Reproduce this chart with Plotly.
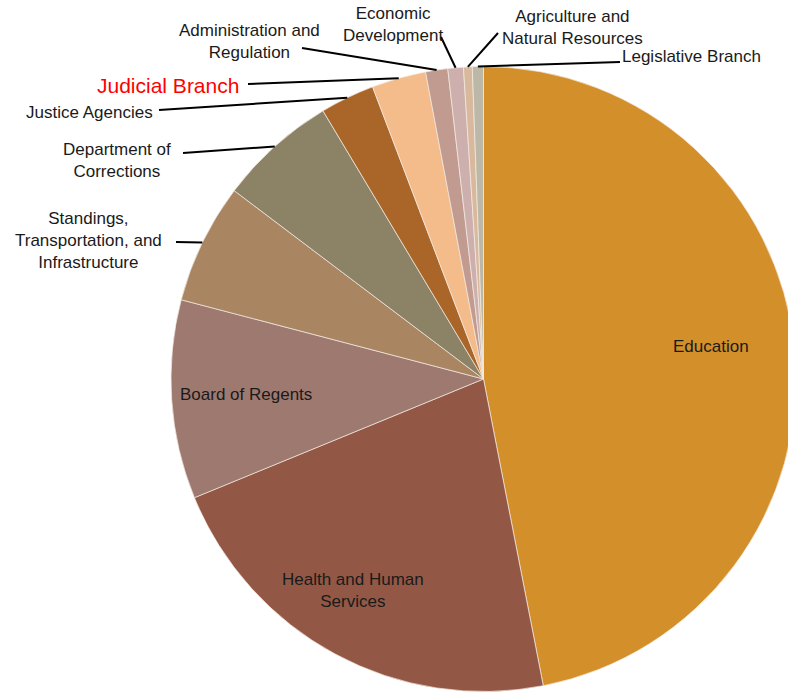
import math
import plotly.graph_objects as go

# ---- data ----
categories = [
    "Education", "Health and Human Services", "Board of Regents",
    "Standings, Transportation, and Infrastructure", "Department of Corrections",
    "Justice Agencies", "Judicial Branch", "Administration and Regulation",
    "Economic Development", "Agriculture and Natural Resources", "Legislative Branch",
]
shares = [46.8, 21.8, 10.25, 6.2, 6.1, 2.8, 2.8, 1.14, 0.8, 0.45, 0.57]
display_labels = [
    "Education", "Health and Human<br>Services", "Board of Regents",
    "Standings,<br>Transportation, and<br>Infrastructure", "Department of<br>Corrections",
    "Justice Agencies", "Judicial Branch", "Administration and<br>Regulation",
    "Economic<br>Development", "Agriculture and<br>Natural Resources", "Legislative Branch",
]
colors = [
    "#D38F2A", "#935845", "#9E7970", "#AA8562", "#8C8367", "#AA6628",
    "#F4BC8A", "#C19A90", "#CDB0AE", "#D9B99E", "#BCB8A8",
]

W, H = 796, 693
OFF = 0  # body margin removed via post_script


def px(x, y):
    """screen pixel -> paper coords"""
    return (x - OFF) / W, 1 - (y - OFF) / H


# pie domain in screen pixels (left, top, right, bottom)
dl, dt, dr, db = 171, 66, 796, 692
x0d, y1d = px(dl, dt)
x1d, y0d = px(dr, db)

fig = go.Figure(go.Pie(
    labels=categories, values=shares, sort=False, direction="clockwise",
    rotation=0, marker=dict(colors=colors, line=dict(color="#F3EBE3", width=0.7)),
    textinfo="none", hoverinfo="label+percent", showlegend=False,
    domain=dict(x=[max(0, x0d), min(1, x1d)], y=[max(0, y0d), min(1, y1d)]),
))

# geometry of the drawn pie (screen pixels)
R = min(dr - dl, db - dt) / 2
cx, cy = (dl + dr) / 2, (dt + db) / 2
total = sum(shares)
mid_angles = []
acc = 0
for v in shares:
    mid_angles.append((acc + v / 2) / total * 2 * math.pi)
    acc += v

font = dict(family="Liberation Sans, Arial, sans-serif", size=17, color="#1a1a1a")

# label placements (screen px): index -> (x, y, xanchor, leader-line outer end or None)
placements = {
    0: (711, 347, "center", None),
    1: (353, 590, "center", None),
    2: (246, 394, "center", None),
    3: (88, 240, "center", (176, 242)),
    4: (117, 160, "center", (183, 153)),
    5: (89, 112, "center", (159, 110)),
    6: (168, 85, "center", (248, 84)),
    7: (249, 41, "center", (302, 48)),
    8: (393, 25, "center", (441, 37)),
    9: (572, 27, "center", (498, 33)),
    10: (620, 57, "left", (620, 62)),
}

annotations = []
shapes = []
for i, (x, y, xa, outer) in placements.items():
    f = dict(font)
    if categories[i] == "Judicial Branch":
        f = dict(family="Liberation Sans, Arial, sans-serif", size=21, color="#FF0000")
    ax, ay = px(x, y)
    annotations.append(dict(
        x=ax, y=ay, xref="paper", yref="paper", text=display_labels[i],
        showarrow=False, xanchor=xa, yanchor="middle", font=f, align="center",
    ))
    if outer is not None:
        a = mid_angles[i]
        ix = cx + R * math.sin(a)
        iy = cy - R * math.cos(a)
        lx0, ly0 = px(*outer)
        lx1, ly1 = px(ix, iy)
        shapes.append(dict(type="line", xref="paper", yref="paper",
                           x0=lx0, y0=ly0, x1=lx1, y1=ly1,
                           line=dict(color="black", width=2)))

fig.update_layout(
    width=W, height=H, margin=dict(l=0, r=0, t=0, b=0),
    paper_bgcolor="white", plot_bgcolor="white",
    annotations=annotations, shapes=shapes,
)

fig.write_html(
    "out.html",
    config={"displayModeBar": False},
    post_script="document.body.style.margin='0';document.body.style.overflow='hidden';",
)
